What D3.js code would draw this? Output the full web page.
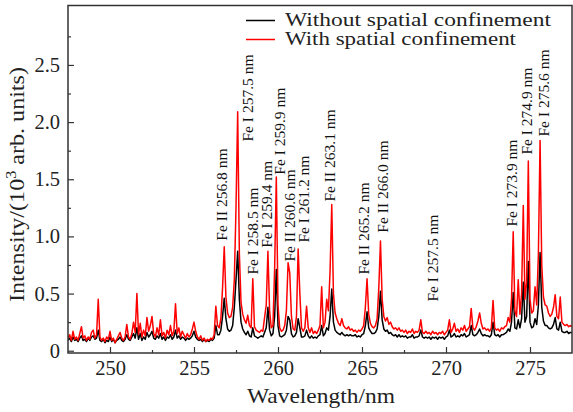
<!DOCTYPE html>
<html>
<head>
<meta charset="utf-8">
<script src="https://cdn.jsdelivr.net/npm/d3@7"></script>
<style>
  body { margin: 0; background: #fff; }
  svg { display: block; }
  text { font-family: "Liberation Serif", "Times New Roman", serif; }
</style>
</head>
<body>
<div id="chart"></div>
<script>
// Spectrum sampled every 0.1 nm from 247.5 nm to 277.5 nm (one row = 1 nm)
const startWl = 247.5;
const stepWl = 0.1;

// Intensity with spatial confinement (10^3 arb. units)
const withConfinement = [
  0.11, 0.14, 0.09, 0.17, 0.10, 0.12, 0.09, 0.15, 0.21, 0.11,   // 247.5
  0.13, 0.09, 0.12, 0.10, 0.16, 0.18, 0.11, 0.14, 0.45, 0.12,   // 248.5
  0.09, 0.11, 0.08, 0.12, 0.10, 0.17, 0.09, 0.11, 0.07, 0.10,   // 249.5
  0.13, 0.16, 0.11, 0.09, 0.12, 0.23, 0.12, 0.10, 0.15, 0.25,   // 250.5
  0.16, 0.50, 0.14, 0.24, 0.12, 0.18, 0.13, 0.29, 0.17, 0.22,   // 251.5
  0.30, 0.15, 0.12, 0.20, 0.14, 0.27, 0.13, 0.16, 0.11, 0.18,   // 252.5
  0.14, 0.22, 0.13, 0.17, 0.41, 0.15, 0.20, 0.12, 0.17, 0.14,   // 253.5
  0.11, 0.15, 0.12, 0.14, 0.19, 0.25, 0.17, 0.12, 0.10, 0.13,   // 254.5
  0.09, 0.11, 0.08, 0.10, 0.09, 0.11, 0.10, 0.14, 0.39, 0.22,   // 255.5
  0.20, 0.28, 0.55, 0.91, 0.47, 0.33, 0.29, 0.30, 0.38, 0.62,   // 256.5
  1.25, 2.09, 0.85, 0.42, 0.32, 0.27, 0.24, 0.31, 0.22, 0.20,   // 257.5
  0.63, 0.21, 0.18, 0.17, 0.16, 0.18, 0.17, 0.29, 0.40, 0.87,   // 258.5
  0.35, 0.20, 0.22, 0.72, 1.52, 0.40, 0.20, 0.17, 0.18, 0.22,   // 259.5
  0.35, 0.77, 0.68, 0.30, 0.19, 0.18, 0.30, 0.89, 0.50, 0.20,   // 260.5
  0.17, 0.20, 0.39, 0.20, 0.16, 0.20, 0.15, 0.17, 0.15, 0.18,   // 261.5
  0.22, 0.56, 0.20, 0.25, 0.45, 0.35, 0.70, 1.28, 0.50, 0.33,   // 262.5
  0.28, 0.24, 0.22, 0.28, 0.22, 0.20, 0.19, 0.21, 0.18, 0.19,   // 263.5
  0.17, 0.18, 0.16, 0.18, 0.17, 0.19, 0.22, 0.38, 0.63, 0.32,   // 264.5
  0.24, 0.21, 0.20, 0.22, 0.28, 0.55, 0.96, 0.45, 0.30, 0.26,   // 265.5
  0.29, 0.23, 0.25, 0.21, 0.19, 0.20, 0.18, 0.20, 0.17, 0.18,   // 266.5
  0.16, 0.18, 0.15, 0.17, 0.16, 0.19, 0.15, 0.17, 0.16, 0.18,   // 267.5
  0.27, 0.16, 0.15, 0.17, 0.15, 0.16, 0.14, 0.17, 0.15, 0.16,   // 268.5
  0.14, 0.16, 0.15, 0.17, 0.14, 0.16, 0.18, 0.27, 0.16, 0.19,   // 269.5
  0.24, 0.17, 0.19, 0.16, 0.20, 0.18, 0.22, 0.17, 0.19, 0.21,   // 270.5
  0.37, 0.20, 0.18, 0.21, 0.26, 0.33, 0.24, 0.19, 0.20, 0.18,   // 271.5
  0.19, 0.17, 0.20, 0.44, 0.20, 0.18, 0.19, 0.17, 0.20, 0.19,   // 272.5
  0.21, 0.22, 0.29, 0.25, 0.45, 1.04, 0.35, 0.30, 0.62, 0.32,   // 273.5
  0.50, 1.27, 0.45, 0.60, 1.66, 0.45, 0.33, 0.35, 0.56, 0.40,   // 274.5
  0.85, 1.84, 0.75, 0.47, 0.40, 0.39, 0.33, 0.30, 0.32, 0.38,   // 275.5
  0.49, 0.30, 0.28, 0.47, 0.25, 0.23, 0.22, 0.23, 0.21, 0.22,   // 276.5
  0.21                                                          // 277.5
];

// Intensity without spatial confinement (10^3 arb. units)
const withoutConfinement = [
  0.09, 0.11, 0.08, 0.12, 0.09, 0.10, 0.08, 0.11, 0.13, 0.09,   // 247.5
  0.10, 0.08, 0.11, 0.09, 0.12, 0.13, 0.10, 0.11, 0.18, 0.09,   // 248.5
  0.08, 0.10, 0.07, 0.09, 0.08, 0.12, 0.08, 0.10, 0.07, 0.09,   // 249.5
  0.10, 0.12, 0.09, 0.08, 0.10, 0.14, 0.10, 0.09, 0.12, 0.15,   // 250.5
  0.11, 0.20, 0.10, 0.15, 0.09, 0.12, 0.10, 0.16, 0.12, 0.14,   // 251.5
  0.17, 0.11, 0.10, 0.13, 0.11, 0.15, 0.10, 0.12, 0.09, 0.12,   // 252.5
  0.11, 0.14, 0.10, 0.12, 0.18, 0.11, 0.13, 0.10, 0.12, 0.11,   // 253.5
  0.09, 0.11, 0.10, 0.11, 0.13, 0.17, 0.12, 0.10, 0.09, 0.10,   // 254.5
  0.08, 0.10, 0.08, 0.09, 0.08, 0.10, 0.09, 0.11, 0.22, 0.14,   // 255.5
  0.14, 0.18, 0.30, 0.46, 0.28, 0.19, 0.17, 0.18, 0.22, 0.38,   // 256.5
  0.62, 0.87, 0.45, 0.25, 0.19, 0.16, 0.14, 0.17, 0.13, 0.12,   // 257.5
  0.20, 0.13, 0.12, 0.11, 0.12, 0.13, 0.12, 0.16, 0.20, 0.38,   // 258.5
  0.18, 0.13, 0.15, 0.30, 0.71, 0.22, 0.13, 0.12, 0.13, 0.14,   // 259.5
  0.18, 0.30, 0.27, 0.15, 0.12, 0.13, 0.16, 0.28, 0.20, 0.12,   // 260.5
  0.12, 0.13, 0.18, 0.13, 0.11, 0.13, 0.11, 0.12, 0.11, 0.13,   // 261.5
  0.14, 0.22, 0.13, 0.15, 0.20, 0.18, 0.30, 0.54, 0.25, 0.18,   // 262.5
  0.16, 0.15, 0.14, 0.16, 0.14, 0.13, 0.14, 0.13, 0.14, 0.13,   // 263.5
  0.13, 0.14, 0.12, 0.13, 0.12, 0.14, 0.15, 0.22, 0.34, 0.20,   // 264.5
  0.17, 0.15, 0.15, 0.16, 0.19, 0.30, 0.52, 0.27, 0.19, 0.17,   // 265.5
  0.18, 0.15, 0.16, 0.14, 0.13, 0.14, 0.12, 0.14, 0.12, 0.13,   // 266.5
  0.12, 0.13, 0.11, 0.12, 0.12, 0.14, 0.11, 0.12, 0.12, 0.13,   // 267.5
  0.18, 0.12, 0.11, 0.12, 0.11, 0.12, 0.10, 0.12, 0.11, 0.12,   // 268.5
  0.10, 0.12, 0.11, 0.12, 0.10, 0.12, 0.13, 0.18, 0.12, 0.13,   // 269.5
  0.15, 0.12, 0.13, 0.12, 0.14, 0.13, 0.15, 0.12, 0.13, 0.14,   // 270.5
  0.22, 0.14, 0.13, 0.14, 0.16, 0.19, 0.15, 0.13, 0.14, 0.13,   // 271.5
  0.13, 0.12, 0.14, 0.25, 0.14, 0.13, 0.14, 0.12, 0.14, 0.14,   // 272.5
  0.15, 0.16, 0.19, 0.17, 0.25, 0.51, 0.20, 0.19, 0.27, 0.20,   // 273.5
  0.28, 0.60, 0.25, 0.30, 0.78, 0.25, 0.20, 0.21, 0.28, 0.23,   // 274.5
  0.40, 0.86, 0.38, 0.26, 0.22, 0.22, 0.20, 0.19, 0.20, 0.23,   // 275.5
  0.29, 0.19, 0.18, 0.25, 0.17, 0.16, 0.16, 0.17, 0.15, 0.16,   // 276.5
  0.16                                                          // 277.5
];

// Line labels (text, wavelength of label centre, intensity where the label starts)
const lineLabels = ["Fe II 256.8 nm", "Fe I 257.5 nm", "Fe I 258.5 nm", "Fe I 259.4 nm",
  "Fe I 259.9 nm", "Fe II 260.6 nm", "Fe I 261.2 nm", "Fe II 263.1 nm", "Fe II 265.2 nm",
  "Fe II 266.0 nm", "Fe I 257.5 nm", "Fe I 273.9 nm", "Fe I 274.9 nm", "Fe I 275.6 nm"];
const labelWl = [256.66, 258.21, 258.47, 259.31, 260.08, 260.67, 261.56, 263.05, 265.13,
  266.22, 269.22, 273.89, 274.83, 275.81];
const labelY = [0.963, 1.83, 0.666, 0.90, 1.54, 0.78, 0.946, 1.305, 0.666,
  1.033, 0.43, 1.086, 1.716, 1.874];

const xTicks = [250, 255, 260, 265, 270, 275];
const yTicks = [0, 0.5, 1.0, 1.5, 2.0, 2.5];
const seriesNames = ["Without spatial confinement", "With spatial confinement"];

// ---- layout
const width = 573, height = 412;
const plot = {left: 68, right: 572, top: 5.5, bottom: 353};

const svg = d3.select("#chart").append("svg")
  .attr("width", width)
  .attr("height", height);

const x = d3.scaleLinear().domain([247.5, 277.5]).range([plot.left, plot.right]);
const y = d3.scaleLinear().domain([-0.02, 3.02]).range([plot.bottom, plot.top]);

const toPoints = vals => vals.map((v, i) => ({wl: startWl + i * stepWl, v: v}));

svg.append("clipPath").attr("id", "clip")
  .append("rect")
  .attr("x", plot.left).attr("y", plot.top)
  .attr("width", plot.right - plot.left).attr("height", plot.bottom - plot.top);

const line = d3.line().x(d => x(d.wl)).y(d => y(d.v));

const lines = svg.append("g").attr("clip-path", "url(#clip)");
lines.append("path")
  .datum(toPoints(withoutConfinement))
  .attr("fill", "none").attr("stroke", "#000").attr("stroke-width", 1.5)
  .attr("stroke-linejoin", "round")
  .attr("d", line);
lines.append("path")
  .datum(toPoints(withConfinement))
  .attr("fill", "none").attr("stroke", "#ff0000").attr("stroke-width", 1.5)
  .attr("stroke-linejoin", "round")
  .attr("d", line);

// ---- axes (ticks pointing inward)
const serif = "'Liberation Serif', 'Times New Roman', serif";
const axisColor = "#333";

const xAxis = svg.append("g")
  .attr("transform", "translate(0," + plot.bottom + ")")
  .call(d3.axisTop(x).tickValues(xTicks).tickSize(6).tickFormat(d3.format("d")));
const yAxis = svg.append("g")
  .attr("transform", "translate(" + plot.left + ",0)")
  .call(d3.axisRight(y).tickValues(yTicks).tickSize(6).tickFormat(d => d === 0 ? "0" : d3.format(".1f")(d)));

// minor ticks
svg.append("g")
  .attr("transform", "translate(0," + plot.bottom + ")")
  .call(d3.axisTop(x).tickValues([252.5, 257.5, 262.5, 267.5, 272.5]).tickSize(3).tickFormat(""))
  .call(g => g.select(".domain").remove());
svg.append("g")
  .attr("transform", "translate(" + plot.left + ",0)")
  .call(d3.axisRight(y).tickValues([0.25, 0.75, 1.25, 1.75, 2.25, 2.75]).tickSize(3).tickFormat(""))
  .call(g => g.select(".domain").remove());

svg.selectAll("g").attr("font-family", serif);
svg.selectAll(".tick line").attr("stroke", axisColor).attr("stroke-width", 1.2);
svg.selectAll(".domain").remove();

xAxis.selectAll("text")
  .attr("y", 22).attr("dy", 0)
  .attr("font-family", serif).style("font-size", "20.5px").attr("fill", "#222");
yAxis.selectAll("text")
  .attr("x", -8).attr("dy", "0.32em")
  .attr("text-anchor", "end")
  .attr("font-family", serif).style("font-size", "20.5px").attr("fill", "#222");

// frame
svg.append("rect")
  .attr("x", plot.left).attr("y", plot.top)
  .attr("width", plot.right - plot.left).attr("height", plot.bottom - plot.top)
  .attr("fill", "none").attr("stroke", axisColor).attr("stroke-width", 1.5);

// axis titles
svg.append("text")
  .attr("x", 321).attr("y", 403)
  .attr("text-anchor", "middle")
  .attr("textLength", 148).attr("lengthAdjust", "spacingAndGlyphs")
  .attr("font-family", serif).style("font-size", "21px").attr("fill", "#222")
  .text("Wavelength/nm");

const yTitle = svg.append("text")
  .attr("transform", "translate(24,302) rotate(-90)")
  .attr("textLength", 235).attr("lengthAdjust", "spacingAndGlyphs")
  .attr("font-family", serif).style("font-size", "21px").attr("fill", "#222");
yTitle.append("tspan").text("Intensity/(10");
yTitle.append("tspan").attr("dy", -8).style("font-size", "14px").text("3");
yTitle.append("tspan").attr("dy", 8).text(" arb. units)");

// ---- line labels
svg.append("g").selectAll("text")
  .data(lineLabels)
  .join("text")
  .attr("transform", (d, i) => "translate(" + x(labelWl[i]) + "," + y(labelY[i]) + ") rotate(-90)")
  .attr("dy", "0.34em")
  .attr("font-family", serif).style("font-size", "15.5px").attr("fill", "#111")
  .text(d => d);

// ---- legend
const legendColors = ["#000", "#ff0000"];
const legendTextLen = [266, 231];
const legend = svg.append("g");
seriesNames.forEach((name, i) => {
  const ly = 20.5 + i * 19;
  legend.append("line")
    .attr("x1", 246).attr("x2", 275).attr("y1", ly).attr("y2", ly)
    .attr("stroke", legendColors[i]).attr("stroke-width", 1.5);
  legend.append("text")
    .attr("x", 285).attr("y", ly + 5)
    .attr("textLength", legendTextLen[i]).attr("lengthAdjust", "spacingAndGlyphs")
    .attr("font-family", serif).style("font-size", "19.5px").attr("fill", "#222")
    .text(name);
});
</script>
</body>
</html>
